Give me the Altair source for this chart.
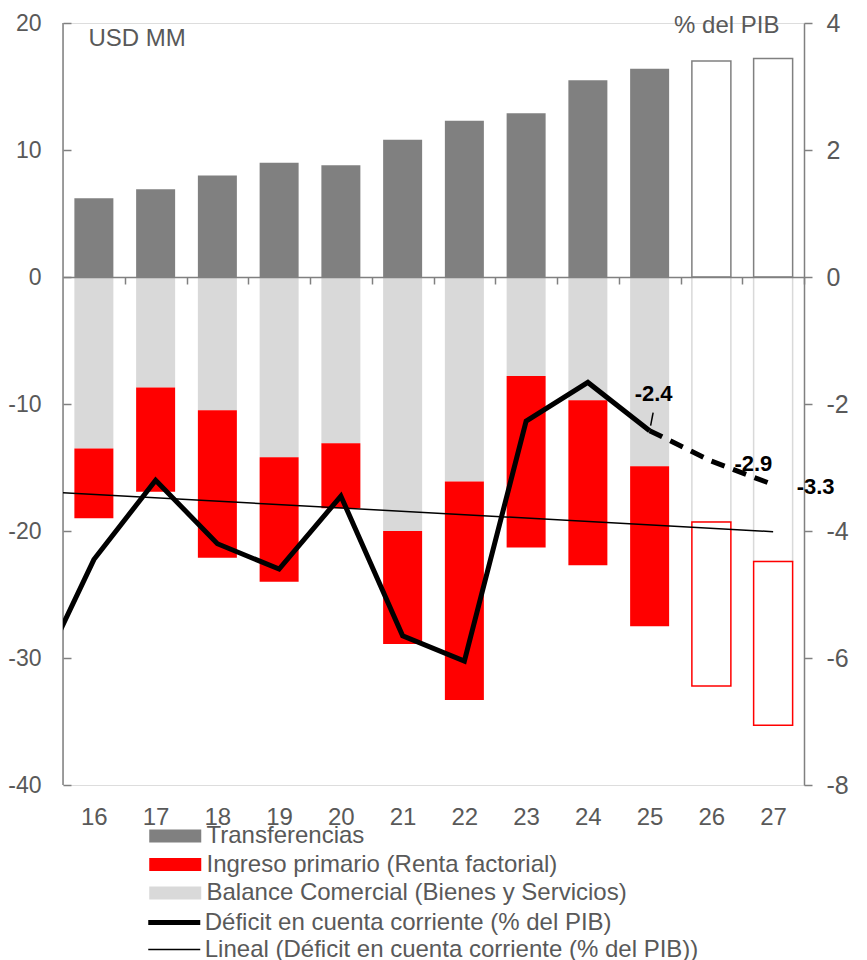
import altair as alt
import pandas as pd

# ---------------- data ----------------
years = [16, 17, 18, 19, 20, 21, 22, 23, 24, 25, 26, 27]
transferencias = [6.2, 6.9, 8.0, 9.0, 8.8, 10.8, 12.3, 12.9, 15.5, 16.4, 17.0, 17.2]
balance_comercial = [-13.5, -8.7, -10.5, -14.2, -13.1, -20.0, -16.1, -7.8, -9.7, -14.9, -19.3, -22.4]
ingreso_primario = [-5.5, -8.2, -11.6, -9.8, -5.1, -8.9, -17.2, -13.5, -13.0, -12.6, -12.9, -12.9]
proyeccion = [False, False, False, False, False, False, False, False, False, False, True, True]

deficit_years = [15, 16, 17, 18, 19, 20, 21, 22, 23, 24, 25, 26, 27]
deficit = [-6.5, -4.45, -3.2, -4.2, -4.6, -3.45, -5.65, -6.05, -2.27, -1.66, -2.42, -2.9, -3.27]
deficit_proj_from = 25

trend_years = [15, 27]
trend_values = [-3.37, -4.01]

x_tick_values = [16.5, 17.5, 18.5, 19.5, 20.5, 21.5, 22.5, 23.5, 24.5, 25.5, 26.5, 27.5]
left_ticks = [-40, -30, -20, -10, 0, 10, 20]
right_ticks = [-8, -6, -4, -2, 0, 2, 4]

T = "Transferencias"
I = "Ingreso primario (Renta factorial)"
B = "Balance Comercial (Bienes y Servicios)"
D = "Déficit en cuenta corriente (% del PIB)"
L = "Lineal (Déficit en cuenta corriente (% del PIB))"

DARK = "#808080"
LIGHT = "#d9d9d9"
RED = "#ff0000"
TXT = "#595959"
AX = "#808080"
FONT = "Liberation Sans"

# ---------------- tables ----------------
rows = []
for yr, t, b, i, p in zip(years, transferencias, balance_comercial, ingreso_primario, proyeccion):
    rows.append({"year": yr, "comp": T, "y0": 0.0, "y1": t, "proj": p})
    rows.append({"year": yr, "comp": B, "y0": 0.0, "y1": b, "proj": p})
    rows.append({"year": yr, "comp": I, "y0": b, "y1": b + i, "proj": p})
bars = pd.DataFrame(rows)

line_rows = []
for yr, v in zip(deficit_years, deficit):
    if yr <= deficit_proj_from:
        line_rows.append({"year": yr, "val": v, "serie": D})
for yr, v in zip(trend_years, trend_values):
    line_rows.append({"year": yr, "val": v, "serie": L})
lines = pd.DataFrame(line_rows)

dashed = pd.DataFrame({"year": [y for y in deficit_years if y >= deficit_proj_from],
                       "val": [v for y, v in zip(deficit_years, deficit) if y >= deficit_proj_from]})
labels = dashed.copy()

border = pd.DataFrame({"year": [15.5], "top": [20], "bottom": [-40]})

# ---------------- scales / axes ----------------
xscale = alt.Scale(domain=[15.5, 27.5], nice=False, zero=False, padding=0)
x_axis = alt.Axis(orient="bottom", offset=-508, values=x_tick_values,
                  labelExpr="'' + (datum.value - 0.5)", labelOffset=-30.9,
                  labelFlush=False, labelOverlap=False, labelBound=False,
                  tickSize=7, tickColor=AX, tickWidth=1.5,
                  domainColor=AX, domainWidth=1.5,
                  labelPadding=521, labelFontSize=24, labelColor=TXT, labelFont=FONT,
                  title=None, grid=False, zindex=1)


def X(field="year"):
    return alt.X(f"{field}:Q", scale=xscale, axis=x_axis)


yl_scale = alt.Scale(domain=[-40, 20], nice=False, zero=False)
yl_axis = alt.Axis(orient="left", offset=-8, values=left_ticks, domain=False,
                   labelExpr="'' + datum.value",
                   tickSize=8, tickColor=AX, tickWidth=1.5,
                   labelPadding=22, labelFontSize=23, labelColor=TXT, labelFont=FONT,
                   title="USD MM", titleAngle=0, titleX=17, titleY=22.7,
                   titleAlign="left", titleBaseline="alphabetic", titleFontSize=24,
                   titleFontWeight="normal", titleColor=TXT, titleFont=FONT, grid=False)

yr_scale = alt.Scale(domain=[-8, 4], nice=False, zero=False)
yr_axis = alt.Axis(orient="right", values=right_ticks, domain=True, domainColor=AX, domainWidth=1.5,
                   labelExpr="'' + datum.value",
                   tickSize=8, tickColor=AX, tickWidth=1.5,
                   labelPadding=14, labelFontSize=25, labelColor=TXT, labelFont=FONT,
                   title="% del PIB", titleAngle=0, titleX=-25, titleY=9.4,
                   titleAlign="right", titleBaseline="alphabetic", titleFontSize=24,
                   titleFontWeight="normal", titleColor=TXT, titleFont=FONT, grid=False)


def YL(field):
    return alt.Y(f"{field}:Q", scale=yl_scale, axis=yl_axis)


def YR(field="val"):
    return alt.Y(f"{field}:Q", scale=yr_scale, axis=yr_axis)


fill_legend = alt.Legend(orient="none", legendX=97.75, legendY=798.5, title=None,
                         symbolType="M-1.825,-0.456H1.825V0.456H-1.825Z", symbolSize=812,
                         symbolStrokeWidth=0, labelOffset=16.75, labelFontSize=24,
                         labelColor=TXT, labelFont=FONT, labelLimit=800, rowPadding=1.5,
                         padding=0, direction="vertical")
stroke_legend = alt.Legend(orient="none", legendX=94.25, legendY=882.5, title=None,
                           symbolType="M-1.825,0H1.825", symbolSize=812,
                           labelOffset=13.5, labelFontSize=24,
                           labelColor=TXT, labelFont=FONT, labelLimit=800, rowPadding=0,
                           padding=0, direction="vertical")

BAR_W = 39

# ---------------- left (USD) layers ----------------
filled = alt.Chart(bars).transform_filter("!datum.proj").mark_bar(width=BAR_W).encode(
    x=X(), y=YL("y0"), y2="y1:Q",
    fill=alt.Fill("comp:N", scale=alt.Scale(domain=[T, I, B], range=[DARK, RED, LIGHT]),
                  legend=fill_legend),
)


def hollow(comp, color):
    return alt.Chart(bars).transform_filter(
        f"datum.proj && datum.comp == '{comp}'"
    ).mark_bar(width=BAR_W, fill="white", stroke=color, strokeWidth=1.5).encode(
        x=X(), y=YL("y0"), y2="y1:Q")


left_border = alt.Chart(border).mark_rule(color=AX, strokeWidth=1.5).encode(
    x=X(), y=YL("top"), y2="bottom:Q")

left_group = alt.layer(filled, hollow(B, LIGHT), hollow(I, RED), hollow(T, DARK), left_border)

# ---------------- right (% PIB) layers ----------------
line_dom = [D, L]
solid = alt.Chart(lines).mark_line(clip=True).encode(
    x=X(), y=YR(),
    stroke=alt.Stroke("serie:N", scale=alt.Scale(domain=line_dom, range=["black", "black"]),
                      legend=stroke_legend),
    strokeWidth=alt.StrokeWidth("serie:N", scale=alt.Scale(type="ordinal", domain=line_dom,
                                                            range=[5, 1.5]),
                                legend=stroke_legend),
)

dash = alt.Chart(dashed).mark_line(color="black", strokeWidth=5, strokeDash=[14, 9]).encode(
    x=X(), y=YR())

leader = alt.Chart(labels).transform_filter(f"datum.year == {deficit_proj_from}").mark_rule(
    color="black", strokeWidth=1.5, xOffset=1, x2Offset=3.5, yOffset=-5, y2Offset=-18
).encode(x=X(), x2="year:Q", y=YR(), y2="val:Q")


def label(year, dx, dy):
    return alt.Chart(labels).transform_filter(f"datum.year == {year}").transform_calculate(
        lbl="'' + (round(datum.val * 10) / 10)"
    ).mark_text(
        fontSize=22, fontWeight="bold", color="black", font=FONT, dx=dx, dy=dy
    ).encode(x=X(), y=YR(), text="lbl:N")


right_group = alt.layer(solid, dash, leader, label(25, 4, -37), label(26, 42, 2.5), label(27, 42.5, 2))

chart = alt.layer(left_group, right_group).resolve_scale(y="independent").properties(
    width=741, height=762,
    autosize=alt.AutoSizeParams(type="none"),
    padding={"left": 55, "top": 15, "right": 50, "bottom": 175},
).configure_view(stroke=None).configure(font=FONT)

chart.save("out.html", embed_options={"renderer": "svg", "actions": False})
